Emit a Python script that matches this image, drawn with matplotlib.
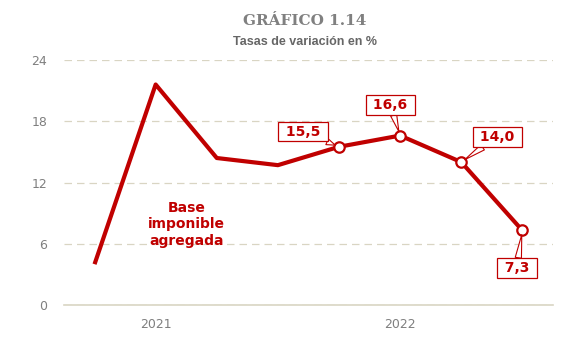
import matplotlib
matplotlib.use("agg")
import matplotlib.pyplot as plt
import numpy as np

# Tasas de variacion (%) de la base imponible agregada
periods = ['I-21', 'II-21', 'III-21', 'IV-21', 'I-22', 'II-22', 'III-22', 'IV-22']
values = [4.0, 21.6, 14.4, 13.7, 15.5, 16.6, 14.0, 7.3]
year_labels = ['2021', '2022']
year_pos = [1, 5]
labelled = [4, 5, 6, 7]
label_offsets = [(-26, 11), (-7, 22), (26, 18), (-4, -27)]

red = '#C00000'
grid_col = '#D9D5C3'
txt_col = '#7F7F7F'

fig = plt.figure(figsize=(5.79, 3.52), dpi=100)
ax = fig.add_axes([0.1105, 0.1335, 0.8445, 0.696])

x = np.arange(len(values))
ax.plot(x, values, color=red, lw=3, solid_capstyle='butt', zorder=3)
ax.plot(x[labelled], [values[i] for i in labelled], 'o', ms=7.5, mfc='white',
        mec=red, mew=1.6, zorder=4)

for i, off in zip(labelled, label_offsets):
    lab = ' ' + ('%.1f' % values[i]).replace('.', ',') + ' '
    ax.annotate(lab, xy=(x[i], values[i]),
                xytext=off, textcoords='offset points', ha='center', va='center',
                fontsize=10, fontweight='bold', color=red,
                bbox=dict(boxstyle='square,pad=0.2', fc='white', ec=red, lw=0.9),
                arrowprops=dict(arrowstyle='wedge,tail_width=0.45', fc='white',
                                ec=red, lw=0.8, shrinkA=0, shrinkB=3),
                zorder=5)

ax.text(1.5, 7.9, 'Base\nimponible\nagregada', ha='center', va='center',
        fontsize=10, fontweight='bold', color=red, linespacing=1.2)

ax.set_xlim(-0.5, len(values) - 0.5)
ax.set_ylim(0, 24)
ax.set_yticks([0, 6, 12, 18, 24])
ax.set_xticks(year_pos)
ax.set_xticklabels(year_labels)
ax.tick_params(axis='both', length=0, colors=txt_col, labelsize=9)
ax.tick_params(axis='y', pad=12)
ax.tick_params(axis='x', pad=9)
ax.yaxis.grid(True, color=grid_col, ls=(0, (6, 4)), lw=0.9)
ax.set_axisbelow(True)
for s in ['top', 'left', 'right']:
    ax.spines[s].set_visible(False)
ax.spines['bottom'].set_color(grid_col)
ax.spines['bottom'].set_linewidth(1.2)

fig.text(0.527, 0.94, 'GRÁFICO 1.14', ha='center', va='center', fontsize=11,
         fontweight='bold', color='#808080', family='DejaVu Serif')
fig.text(0.527, 0.88, 'Tasas de variación en %', ha='center', va='center',
         fontsize=9, fontweight='bold', color='#666666', family='Liberation Sans')

plt.savefig('out.png', dpi=100)
